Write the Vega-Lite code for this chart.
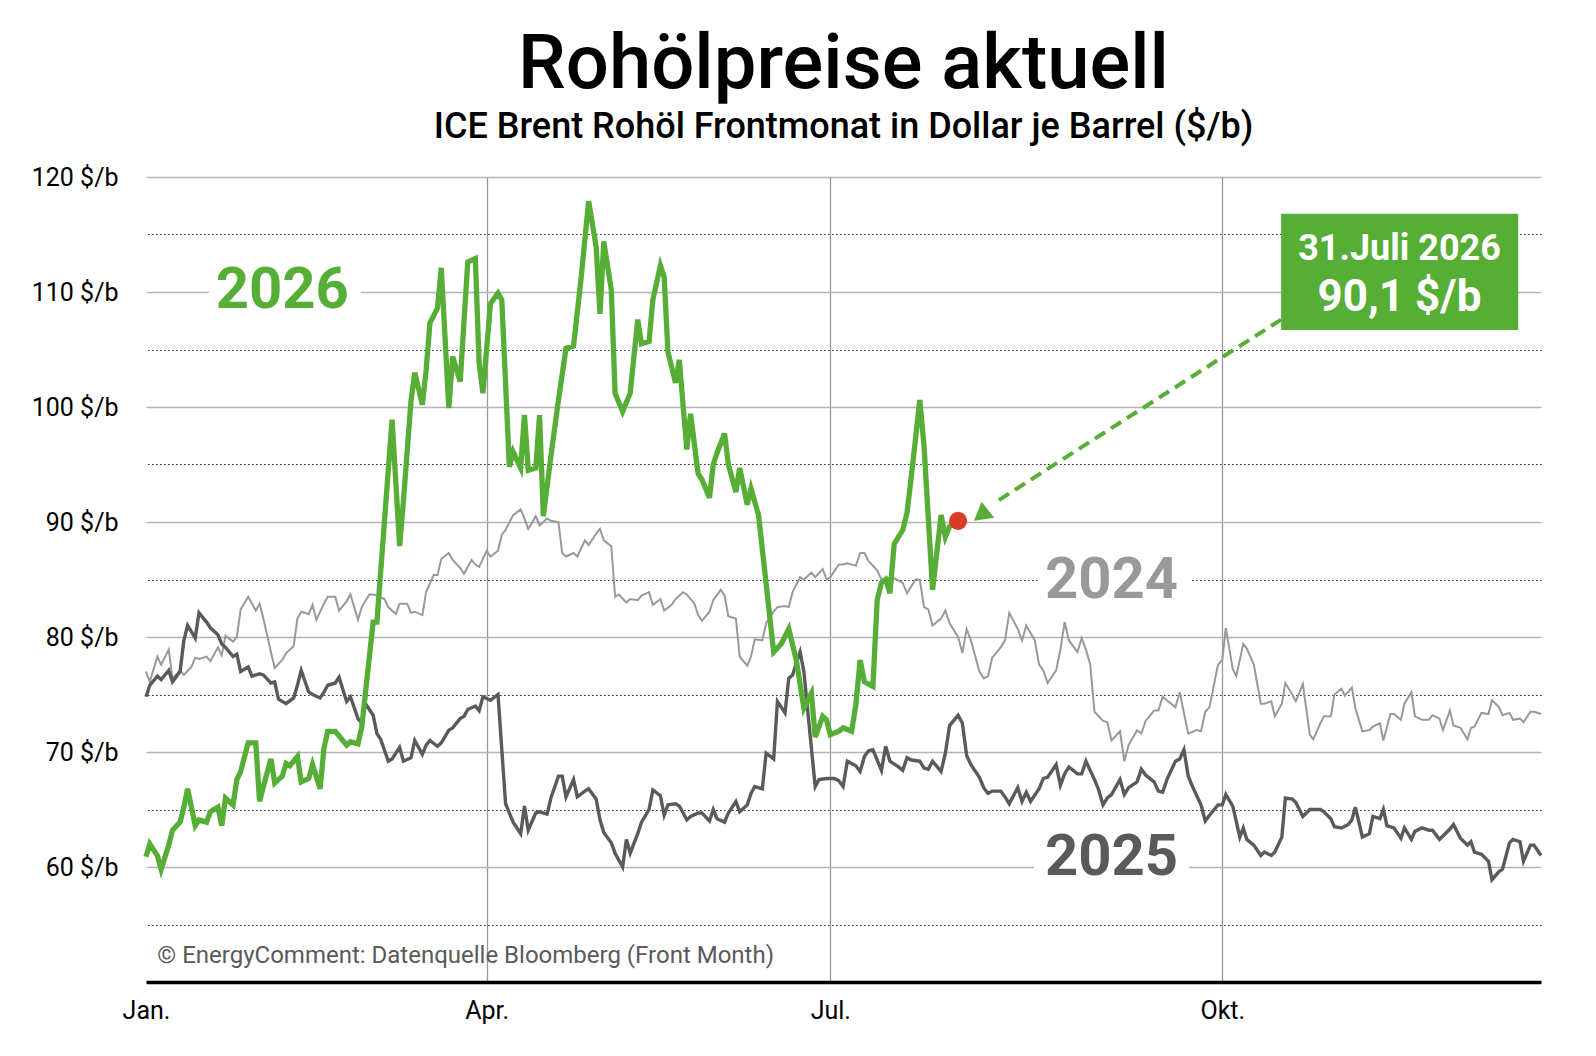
{
  "$schema": "https://vega.github.io/schema/vega-lite/v6.json",
  "width": 1395,
  "height": 805,
  "autosize": "none",
  "padding": {"left": 146, "top": 177, "right": 55, "bottom": 74},
  "background": "white",
  "title": {
    "text": "Rohölpreise aktuell",
    "subtitle": "ICE Brent Rohöl Frontmonat in Dollar je Barrel ($/b)",
    "anchor": "middle",
    "frame": "group",
    "font": "Roboto",
    "fontSize": 76,
    "fontWeight": 500,
    "color": "#000000",
    "subtitleFont": "Roboto",
    "subtitleFontSize": 36,
    "subtitleFontWeight": 500,
    "subtitleColor": "#000000",
    "subtitlePadding": 6,
    "offset": 19
  },
  "datasets": {
    "preise": [
      {"jahr":2024,"tag":1,"preis":77.0},{"jahr":2024,"tag":2,"preis":76.1},{"jahr":2024,"tag":4,"preis":78.3},{"jahr":2024,"tag":5,"preis":77.6},{"jahr":2024,"tag":7,"preis":78.9},{"jahr":2024,"tag":8,"preis":76.4},{"jahr":2024,"tag":10,"preis":77.1},{"jahr":2024,"tag":11,"preis":76.7},{"jahr":2024,"tag":13,"preis":77.4},{"jahr":2024,"tag":14,"preis":78.2},
      {"jahr":2024,"tag":15,"preis":78.1},{"jahr":2024,"tag":17,"preis":78.3},{"jahr":2024,"tag":18,"preis":77.9},{"jahr":2024,"tag":20,"preis":79.1},{"jahr":2024,"tag":21,"preis":78.4},{"jahr":2024,"tag":22,"preis":80.1},{"jahr":2024,"tag":24,"preis":79.6},{"jahr":2024,"tag":25,"preis":80.0},{"jahr":2024,"tag":26,"preis":82.4},{"jahr":2024,"tag":28,"preis":83.5},
      {"jahr":2024,"tag":30,"preis":82.3},{"jahr":2024,"tag":31,"preis":82.9},{"jahr":2024,"tag":32,"preis":81.6},{"jahr":2024,"tag":34,"preis":78.7},{"jahr":2024,"tag":35,"preis":77.3},{"jahr":2024,"tag":37,"preis":78.0},{"jahr":2024,"tag":38,"preis":78.6},{"jahr":2024,"tag":40,"preis":79.2},{"jahr":2024,"tag":41,"preis":81.6},{"jahr":2024,"tag":42,"preis":82.2},
      {"jahr":2024,"tag":44,"preis":82.0},{"jahr":2024,"tag":45,"preis":82.8},{"jahr":2024,"tag":46,"preis":81.5},{"jahr":2024,"tag":48,"preis":82.9},{"jahr":2024,"tag":49,"preis":83.5},{"jahr":2024,"tag":51,"preis":83.5},{"jahr":2024,"tag":52,"preis":82.3},{"jahr":2024,"tag":54,"preis":83.1},{"jahr":2024,"tag":55,"preis":83.7},{"jahr":2024,"tag":57,"preis":81.5},
      {"jahr":2024,"tag":58,"preis":82.6},{"jahr":2024,"tag":60,"preis":83.7},{"jahr":2024,"tag":61,"preis":83.7},{"jahr":2024,"tag":62,"preis":83.6},{"jahr":2024,"tag":64,"preis":83.3},{"jahr":2024,"tag":65,"preis":82.6},{"jahr":2024,"tag":67,"preis":82.0},{"jahr":2024,"tag":68,"preis":82.9},{"jahr":2024,"tag":70,"preis":82.9},{"jahr":2024,"tag":71,"preis":82.1},
      {"jahr":2024,"tag":72,"preis":82.2},{"jahr":2024,"tag":74,"preis":81.9},{"jahr":2024,"tag":75,"preis":83.9},{"jahr":2024,"tag":77,"preis":85.4},{"jahr":2024,"tag":78,"preis":85.4},{"jahr":2024,"tag":79,"preis":86.8},{"jahr":2024,"tag":81,"preis":87.3},{"jahr":2024,"tag":82,"preis":86.7},{"jahr":2024,"tag":84,"preis":86.0},{"jahr":2024,"tag":85,"preis":85.5},
      {"jahr":2024,"tag":87,"preis":86.7},{"jahr":2024,"tag":88,"preis":86.3},{"jahr":2024,"tag":89,"preis":86.1},{"jahr":2024,"tag":91,"preis":87.5},{"jahr":2024,"tag":92,"preis":87.0},{"jahr":2024,"tag":94,"preis":87.5},{"jahr":2024,"tag":95,"preis":88.9},{"jahr":2024,"tag":96,"preis":89.3},{"jahr":2024,"tag":98,"preis":90.6},{"jahr":2024,"tag":100,"preis":91.1},
      {"jahr":2024,"tag":101,"preis":90.3},{"jahr":2024,"tag":102,"preis":89.4},{"jahr":2024,"tag":104,"preis":90.5},{"jahr":2024,"tag":105,"preis":89.7},{"jahr":2024,"tag":107,"preis":90.3},{"jahr":2024,"tag":108,"preis":90.1},{"jahr":2024,"tag":110,"preis":90.0},{"jahr":2024,"tag":111,"preis":87.3},{"jahr":2024,"tag":112,"preis":87.0},{"jahr":2024,"tag":114,"preis":87.3},
      {"jahr":2024,"tag":115,"preis":87.0},{"jahr":2024,"tag":117,"preis":88.4},{"jahr":2024,"tag":118,"preis":88.0},{"jahr":2024,"tag":120,"preis":89.0},{"jahr":2024,"tag":121,"preis":89.4},{"jahr":2024,"tag":122,"preis":88.4},{"jahr":2024,"tag":124,"preis":87.9},{"jahr":2024,"tag":125,"preis":83.5},{"jahr":2024,"tag":126,"preis":83.7},{"jahr":2024,"tag":128,"preis":83.0},
      {"jahr":2024,"tag":129,"preis":83.3},{"jahr":2024,"tag":131,"preis":83.2},{"jahr":2024,"tag":132,"preis":83.6},{"jahr":2024,"tag":134,"preis":83.9},{"jahr":2024,"tag":135,"preis":82.8},{"jahr":2024,"tag":137,"preis":83.3},{"jahr":2024,"tag":138,"preis":82.3},{"jahr":2024,"tag":140,"preis":82.8},{"jahr":2024,"tag":141,"preis":83.3},{"jahr":2024,"tag":143,"preis":83.9},
      {"jahr":2024,"tag":144,"preis":83.7},{"jahr":2024,"tag":146,"preis":82.9},{"jahr":2024,"tag":147,"preis":81.9},{"jahr":2024,"tag":148,"preis":81.4},{"jahr":2024,"tag":150,"preis":82.2},{"jahr":2024,"tag":151,"preis":83.2},{"jahr":2024,"tag":153,"preis":84.1},{"jahr":2024,"tag":154,"preis":83.6},{"jahr":2024,"tag":155,"preis":81.8},{"jahr":2024,"tag":157,"preis":81.6},
      {"jahr":2024,"tag":158,"preis":78.3},{"jahr":2024,"tag":160,"preis":77.5},{"jahr":2024,"tag":161,"preis":78.3},{"jahr":2024,"tag":162,"preis":79.8},{"jahr":2024,"tag":164,"preis":79.7},{"jahr":2024,"tag":165,"preis":81.2},{"jahr":2024,"tag":167,"preis":82.2},{"jahr":2024,"tag":168,"preis":82.6},{"jahr":2024,"tag":170,"preis":82.7},{"jahr":2024,"tag":171,"preis":82.6},
      {"jahr":2024,"tag":172,"preis":83.9},{"jahr":2024,"tag":174,"preis":85.2},{"jahr":2024,"tag":175,"preis":85.0},{"jahr":2024,"tag":177,"preis":85.6},{"jahr":2024,"tag":178,"preis":85.2},{"jahr":2024,"tag":180,"preis":85.9},{"jahr":2024,"tag":181,"preis":85.0},{"jahr":2024,"tag":182,"preis":85.2},{"jahr":2024,"tag":184,"preis":86.3},{"jahr":2024,"tag":185,"preis":86.3},
      {"jahr":2024,"tag":186,"preis":86.4},{"jahr":2024,"tag":188,"preis":86.2},{"jahr":2024,"tag":189,"preis":87.3},{"jahr":2024,"tag":190,"preis":87.3},{"jahr":2024,"tag":191,"preis":86.6},{"jahr":2024,"tag":193,"preis":85.8},{"jahr":2024,"tag":194,"preis":85.0},{"jahr":2024,"tag":195,"preis":85.1},{"jahr":2024,"tag":197,"preis":85.1},{"jahr":2024,"tag":198,"preis":84.9},
      {"jahr":2024,"tag":199,"preis":84.7},{"jahr":2024,"tag":200,"preis":83.8},{"jahr":2024,"tag":202,"preis":85.0},{"jahr":2024,"tag":203,"preis":85.0},{"jahr":2024,"tag":204,"preis":82.6},{"jahr":2024,"tag":205,"preis":82.4},{"jahr":2024,"tag":206,"preis":81.0},{"jahr":2024,"tag":208,"preis":81.6},{"jahr":2024,"tag":209,"preis":82.3},{"jahr":2024,"tag":210,"preis":81.2},
      {"jahr":2024,"tag":212,"preis":80.0},{"jahr":2024,"tag":213,"preis":78.6},{"jahr":2024,"tag":214,"preis":80.7},{"jahr":2024,"tag":215,"preis":79.7},{"jahr":2024,"tag":217,"preis":77.0},{"jahr":2024,"tag":218,"preis":76.4},{"jahr":2024,"tag":219,"preis":76.6},{"jahr":2024,"tag":220,"preis":78.2},{"jahr":2024,"tag":222,"preis":79.1},{"jahr":2024,"tag":223,"preis":79.7},
      {"jahr":2024,"tag":224,"preis":82.1},{"jahr":2024,"tag":226,"preis":80.7},{"jahr":2024,"tag":227,"preis":79.7},{"jahr":2024,"tag":228,"preis":81.0},{"jahr":2024,"tag":230,"preis":79.7},{"jahr":2024,"tag":231,"preis":77.6},{"jahr":2024,"tag":232,"preis":77.1},{"jahr":2024,"tag":233,"preis":76.0},{"jahr":2024,"tag":235,"preis":77.1},{"jahr":2024,"tag":236,"preis":78.9},
      {"jahr":2024,"tag":237,"preis":81.3},{"jahr":2024,"tag":238,"preis":79.7},{"jahr":2024,"tag":240,"preis":78.7},{"jahr":2024,"tag":241,"preis":79.9},{"jahr":2024,"tag":242,"preis":78.9},{"jahr":2024,"tag":243,"preis":77.6},{"jahr":2024,"tag":244,"preis":73.5},{"jahr":2024,"tag":246,"preis":72.7},{"jahr":2024,"tag":247,"preis":72.6},{"jahr":2024,"tag":248,"preis":71.0},
      {"jahr":2024,"tag":250,"preis":71.8},{"jahr":2024,"tag":251,"preis":69.2},{"jahr":2024,"tag":252,"preis":70.6},{"jahr":2024,"tag":254,"preis":71.9},{"jahr":2024,"tag":255,"preis":71.6},{"jahr":2024,"tag":256,"preis":72.7},{"jahr":2024,"tag":258,"preis":73.6},{"jahr":2024,"tag":259,"preis":73.6},{"jahr":2024,"tag":260,"preis":74.8},{"jahr":2024,"tag":261,"preis":74.5},
      {"jahr":2024,"tag":263,"preis":73.9},{"jahr":2024,"tag":264,"preis":75.2},{"jahr":2024,"tag":265,"preis":73.4},{"jahr":2024,"tag":266,"preis":71.6},{"jahr":2024,"tag":268,"preis":71.9},{"jahr":2024,"tag":269,"preis":71.8},{"jahr":2024,"tag":270,"preis":73.5},{"jahr":2024,"tag":271,"preis":73.9},{"jahr":2024,"tag":273,"preis":77.6},{"jahr":2024,"tag":274,"preis":78.0},
      {"jahr":2024,"tag":275,"preis":80.8},{"jahr":2024,"tag":277,"preis":77.2},{"jahr":2024,"tag":278,"preis":76.6},{"jahr":2024,"tag":280,"preis":79.4},{"jahr":2024,"tag":281,"preis":79.0},{"jahr":2024,"tag":283,"preis":77.6},{"jahr":2024,"tag":285,"preis":74.2},{"jahr":2024,"tag":286,"preis":74.2},{"jahr":2024,"tag":288,"preis":74.4},{"jahr":2024,"tag":289,"preis":73.1},
      {"jahr":2024,"tag":291,"preis":74.2},{"jahr":2024,"tag":292,"preis":76.0},{"jahr":2024,"tag":294,"preis":75.0},{"jahr":2024,"tag":295,"preis":74.4},{"jahr":2024,"tag":297,"preis":75.9},{"jahr":2024,"tag":299,"preis":71.5},{"jahr":2024,"tag":300,"preis":71.1},{"jahr":2024,"tag":302,"preis":72.5},{"jahr":2024,"tag":303,"preis":73.1},{"jahr":2024,"tag":305,"preis":73.1},
      {"jahr":2024,"tag":306,"preis":75.0},{"jahr":2024,"tag":308,"preis":75.5},{"jahr":2024,"tag":309,"preis":74.9},{"jahr":2024,"tag":311,"preis":75.6},{"jahr":2024,"tag":312,"preis":73.8},{"jahr":2024,"tag":314,"preis":71.8},{"jahr":2024,"tag":316,"preis":71.9},{"jahr":2024,"tag":317,"preis":72.2},{"jahr":2024,"tag":319,"preis":72.5},{"jahr":2024,"tag":320,"preis":71.0},
      {"jahr":2024,"tag":322,"preis":73.3},{"jahr":2024,"tag":323,"preis":73.3},{"jahr":2024,"tag":325,"preis":72.8},{"jahr":2024,"tag":326,"preis":74.2},{"jahr":2024,"tag":328,"preis":75.2},{"jahr":2024,"tag":329,"preis":73.1},{"jahr":2024,"tag":331,"preis":72.8},{"jahr":2024,"tag":333,"preis":72.8},{"jahr":2024,"tag":334,"preis":73.2},{"jahr":2024,"tag":336,"preis":72.9},
      {"jahr":2024,"tag":337,"preis":71.9},{"jahr":2024,"tag":339,"preis":73.6},{"jahr":2024,"tag":340,"preis":72.3},{"jahr":2024,"tag":342,"preis":72.1},{"jahr":2024,"tag":344,"preis":71.1},{"jahr":2024,"tag":345,"preis":72.1},{"jahr":2024,"tag":346,"preis":72.2},{"jahr":2024,"tag":348,"preis":73.4},{"jahr":2024,"tag":350,"preis":73.3},{"jahr":2024,"tag":351,"preis":74.5},
      {"jahr":2024,"tag":353,"preis":73.9},{"jahr":2024,"tag":354,"preis":73.2},{"jahr":2024,"tag":356,"preis":73.4},{"jahr":2024,"tag":357,"preis":72.8},{"jahr":2024,"tag":359,"preis":72.9},{"jahr":2024,"tag":360,"preis":72.6},{"jahr":2024,"tag":362,"preis":73.5},{"jahr":2024,"tag":363,"preis":73.5},{"jahr":2024,"tag":365,"preis":73.3},

      {"jahr":2025,"tag":1,"preis":74.8},{"jahr":2025,"tag":2,"preis":75.8},{"jahr":2025,"tag":4,"preis":76.6},{"jahr":2025,"tag":5,"preis":76.3},{"jahr":2025,"tag":7,"preis":77.1},{"jahr":2025,"tag":8,"preis":76.1},{"jahr":2025,"tag":10,"preis":77.0},{"jahr":2025,"tag":11,"preis":79.7},{"jahr":2025,"tag":12,"preis":81.0},{"jahr":2025,"tag":14,"preis":79.9},
      {"jahr":2025,"tag":15,"preis":82.1},{"jahr":2025,"tag":17,"preis":81.3},{"jahr":2025,"tag":18,"preis":80.8},{"jahr":2025,"tag":20,"preis":80.2},{"jahr":2025,"tag":21,"preis":79.4},{"jahr":2025,"tag":22,"preis":79.1},{"jahr":2025,"tag":24,"preis":78.3},{"jahr":2025,"tag":25,"preis":78.5},{"jahr":2025,"tag":26,"preis":77.0},{"jahr":2025,"tag":28,"preis":77.4},
      {"jahr":2025,"tag":29,"preis":76.6},{"jahr":2025,"tag":31,"preis":76.8},{"jahr":2025,"tag":32,"preis":76.7},{"jahr":2025,"tag":34,"preis":76.0},{"jahr":2025,"tag":35,"preis":76.1},{"jahr":2025,"tag":36,"preis":74.6},{"jahr":2025,"tag":38,"preis":74.2},{"jahr":2025,"tag":40,"preis":74.7},{"jahr":2025,"tag":41,"preis":75.8},{"jahr":2025,"tag":42,"preis":77.1},
      {"jahr":2025,"tag":44,"preis":75.2},{"jahr":2025,"tag":45,"preis":75.0},{"jahr":2025,"tag":47,"preis":74.7},{"jahr":2025,"tag":48,"preis":75.2},{"jahr":2025,"tag":49,"preis":75.8},{"jahr":2025,"tag":51,"preis":76.0},{"jahr":2025,"tag":52,"preis":76.5},{"jahr":2025,"tag":54,"preis":74.4},{"jahr":2025,"tag":55,"preis":74.8},{"jahr":2025,"tag":57,"preis":72.9},
      {"jahr":2025,"tag":58,"preis":72.5},{"jahr":2025,"tag":59,"preis":74.2},{"jahr":2025,"tag":61,"preis":73.2},{"jahr":2025,"tag":62,"preis":71.6},{"jahr":2025,"tag":63,"preis":71.1},{"jahr":2025,"tag":65,"preis":69.2},{"jahr":2025,"tag":66,"preis":69.4},{"jahr":2025,"tag":68,"preis":70.4},{"jahr":2025,"tag":69,"preis":69.2},{"jahr":2025,"tag":71,"preis":69.5},
      {"jahr":2025,"tag":72,"preis":71.0},{"jahr":2025,"tag":74,"preis":69.8},{"jahr":2025,"tag":75,"preis":70.6},{"jahr":2025,"tag":76,"preis":71.0},{"jahr":2025,"tag":78,"preis":70.5},{"jahr":2025,"tag":79,"preis":70.8},{"jahr":2025,"tag":81,"preis":71.9},{"jahr":2025,"tag":82,"preis":72.1},{"jahr":2025,"tag":84,"preis":72.9},{"jahr":2025,"tag":85,"preis":73.1},
      {"jahr":2025,"tag":86,"preis":73.7},{"jahr":2025,"tag":88,"preis":74.0},{"jahr":2025,"tag":89,"preis":73.6},{"jahr":2025,"tag":90,"preis":74.8},{"jahr":2025,"tag":92,"preis":74.5},{"jahr":2025,"tag":94,"preis":75.0},{"jahr":2025,"tag":95,"preis":70.2},{"jahr":2025,"tag":96,"preis":65.5},{"jahr":2025,"tag":98,"preis":63.9},{"jahr":2025,"tag":100,"preis":62.9},
      {"jahr":2025,"tag":101,"preis":65.3},{"jahr":2025,"tag":102,"preis":63.2},{"jahr":2025,"tag":104,"preis":64.7},{"jahr":2025,"tag":105,"preis":64.8},{"jahr":2025,"tag":107,"preis":64.6},{"jahr":2025,"tag":108,"preis":66.0},{"jahr":2025,"tag":110,"preis":67.9},{"jahr":2025,"tag":111,"preis":67.9},{"jahr":2025,"tag":112,"preis":66.1},{"jahr":2025,"tag":114,"preis":67.6},
      {"jahr":2025,"tag":115,"preis":66.1},{"jahr":2025,"tag":117,"preis":66.6},{"jahr":2025,"tag":118,"preis":66.8},{"jahr":2025,"tag":120,"preis":65.9},{"jahr":2025,"tag":121,"preis":64.1},{"jahr":2025,"tag":122,"preis":63.0},{"jahr":2025,"tag":124,"preis":62.1},{"jahr":2025,"tag":125,"preis":61.2},{"jahr":2025,"tag":127,"preis":60.0},{"jahr":2025,"tag":128,"preis":62.4},
      {"jahr":2025,"tag":129,"preis":61.2},{"jahr":2025,"tag":131,"preis":62.9},{"jahr":2025,"tag":132,"preis":63.9},{"jahr":2025,"tag":134,"preis":65.0},{"jahr":2025,"tag":135,"preis":66.7},{"jahr":2025,"tag":137,"preis":66.2},{"jahr":2025,"tag":138,"preis":64.5},{"jahr":2025,"tag":139,"preis":65.4},{"jahr":2025,"tag":141,"preis":65.5},{"jahr":2025,"tag":142,"preis":65.3},
      {"jahr":2025,"tag":144,"preis":64.1},{"jahr":2025,"tag":145,"preis":64.4},{"jahr":2025,"tag":147,"preis":64.7},{"jahr":2025,"tag":148,"preis":64.7},{"jahr":2025,"tag":150,"preis":64.0},{"jahr":2025,"tag":151,"preis":65.0},{"jahr":2025,"tag":152,"preis":64.2},{"jahr":2025,"tag":154,"preis":63.9},{"jahr":2025,"tag":155,"preis":64.7},{"jahr":2025,"tag":157,"preis":65.7},
      {"jahr":2025,"tag":158,"preis":64.8},{"jahr":2025,"tag":160,"preis":65.4},{"jahr":2025,"tag":161,"preis":66.4},{"jahr":2025,"tag":162,"preis":67.0},{"jahr":2025,"tag":164,"preis":66.8},{"jahr":2025,"tag":165,"preis":69.9},{"jahr":2025,"tag":167,"preis":69.4},{"jahr":2025,"tag":168,"preis":74.4},{"jahr":2025,"tag":170,"preis":73.4},{"jahr":2025,"tag":171,"preis":76.4},
      {"jahr":2025,"tag":172,"preis":76.7},{"jahr":2025,"tag":174,"preis":78.7},{"jahr":2025,"tag":175,"preis":77.0},{"jahr":2025,"tag":178,"preis":67.0},{"jahr":2025,"tag":179,"preis":67.6},{"jahr":2025,"tag":181,"preis":67.7},{"jahr":2025,"tag":183,"preis":67.7},{"jahr":2025,"tag":184,"preis":67.5},{"jahr":2025,"tag":185,"preis":67.0},{"jahr":2025,"tag":186,"preis":69.2},
      {"jahr":2025,"tag":188,"preis":68.8},{"jahr":2025,"tag":189,"preis":68.3},{"jahr":2025,"tag":190,"preis":69.6},{"jahr":2025,"tag":191,"preis":70.1},{"jahr":2025,"tag":192,"preis":70.2},{"jahr":2025,"tag":194,"preis":68.4},{"jahr":2025,"tag":195,"preis":70.5},{"jahr":2025,"tag":196,"preis":69.2},{"jahr":2025,"tag":198,"preis":68.7},{"jahr":2025,"tag":199,"preis":68.4},
      {"jahr":2025,"tag":200,"preis":69.5},{"jahr":2025,"tag":201,"preis":69.3},{"jahr":2025,"tag":203,"preis":69.2},{"jahr":2025,"tag":204,"preis":68.6},{"jahr":2025,"tag":205,"preis":68.5},{"jahr":2025,"tag":206,"preis":69.2},{"jahr":2025,"tag":208,"preis":68.3},{"jahr":2025,"tag":209,"preis":69.9},{"jahr":2025,"tag":210,"preis":72.3},{"jahr":2025,"tag":212,"preis":73.2},
      {"jahr":2025,"tag":213,"preis":72.5},{"jahr":2025,"tag":214,"preis":69.7},{"jahr":2025,"tag":215,"preis":68.9},{"jahr":2025,"tag":217,"preis":67.8},{"jahr":2025,"tag":218,"preis":66.9},{"jahr":2025,"tag":219,"preis":66.4},{"jahr":2025,"tag":220,"preis":66.6},{"jahr":2025,"tag":222,"preis":66.6},{"jahr":2025,"tag":223,"preis":66.1},{"jahr":2025,"tag":224,"preis":65.5},
      {"jahr":2025,"tag":226,"preis":66.9},{"jahr":2025,"tag":227,"preis":65.7},{"jahr":2025,"tag":228,"preis":66.5},{"jahr":2025,"tag":229,"preis":65.7},{"jahr":2025,"tag":231,"preis":66.8},{"jahr":2025,"tag":232,"preis":67.7},{"jahr":2025,"tag":233,"preis":67.8},{"jahr":2025,"tag":235,"preis":68.9},{"jahr":2025,"tag":236,"preis":67.1},{"jahr":2025,"tag":237,"preis":68.1},
      {"jahr":2025,"tag":238,"preis":68.7},{"jahr":2025,"tag":240,"preis":68.1},{"jahr":2025,"tag":241,"preis":68.1},{"jahr":2025,"tag":242,"preis":69.2},{"jahr":2025,"tag":244,"preis":67.6},{"jahr":2025,"tag":245,"preis":66.7},{"jahr":2025,"tag":246,"preis":65.4},{"jahr":2025,"tag":247,"preis":66.0},{"jahr":2025,"tag":248,"preis":66.3},{"jahr":2025,"tag":250,"preis":67.6},
      {"jahr":2025,"tag":251,"preis":66.3},{"jahr":2025,"tag":252,"preis":66.9},{"jahr":2025,"tag":254,"preis":67.4},{"jahr":2025,"tag":255,"preis":68.5},{"jahr":2025,"tag":256,"preis":68.0},{"jahr":2025,"tag":258,"preis":67.4},{"jahr":2025,"tag":259,"preis":66.6},{"jahr":2025,"tag":260,"preis":66.5},{"jahr":2025,"tag":261,"preis":67.6},{"jahr":2025,"tag":263,"preis":69.2},
      {"jahr":2025,"tag":264,"preis":69.4},{"jahr":2025,"tag":265,"preis":70.2},{"jahr":2025,"tag":266,"preis":67.9},{"jahr":2025,"tag":267,"preis":67.0},{"jahr":2025,"tag":269,"preis":65.4},{"jahr":2025,"tag":270,"preis":64.0},{"jahr":2025,"tag":271,"preis":64.5},{"jahr":2025,"tag":273,"preis":65.4},{"jahr":2025,"tag":274,"preis":65.4},{"jahr":2025,"tag":275,"preis":66.3},
      {"jahr":2025,"tag":277,"preis":65.3},{"jahr":2025,"tag":279,"preis":62.6},{"jahr":2025,"tag":280,"preis":63.4},{"jahr":2025,"tag":281,"preis":62.4},{"jahr":2025,"tag":283,"preis":61.9},{"jahr":2025,"tag":285,"preis":61.0},{"jahr":2025,"tag":286,"preis":61.3},{"jahr":2025,"tag":288,"preis":61.0},{"jahr":2025,"tag":289,"preis":61.3},{"jahr":2025,"tag":291,"preis":62.6},
      {"jahr":2025,"tag":292,"preis":66.0},{"jahr":2025,"tag":294,"preis":65.9},{"jahr":2025,"tag":295,"preis":65.6},{"jahr":2025,"tag":297,"preis":64.4},{"jahr":2025,"tag":299,"preis":65.0},{"jahr":2025,"tag":300,"preis":65.0},{"jahr":2025,"tag":302,"preis":65.0},{"jahr":2025,"tag":303,"preis":64.8},{"jahr":2025,"tag":305,"preis":64.2},{"jahr":2025,"tag":306,"preis":63.5},
      {"jahr":2025,"tag":308,"preis":63.4},{"jahr":2025,"tag":310,"preis":63.7},{"jahr":2025,"tag":311,"preis":64.1},{"jahr":2025,"tag":312,"preis":65.2},{"jahr":2025,"tag":314,"preis":62.6},{"jahr":2025,"tag":316,"preis":62.9},{"jahr":2025,"tag":317,"preis":64.4},{"jahr":2025,"tag":319,"preis":64.2},{"jahr":2025,"tag":320,"preis":65.0},{"jahr":2025,"tag":321,"preis":63.6},
      {"jahr":2025,"tag":323,"preis":63.4},{"jahr":2025,"tag":325,"preis":62.5},{"jahr":2025,"tag":326,"preis":63.4},{"jahr":2025,"tag":328,"preis":62.4},{"jahr":2025,"tag":329,"preis":63.1},{"jahr":2025,"tag":331,"preis":63.4},{"jahr":2025,"tag":333,"preis":63.2},{"jahr":2025,"tag":334,"preis":63.2},{"jahr":2025,"tag":336,"preis":62.4},{"jahr":2025,"tag":337,"preis":62.7},
      {"jahr":2025,"tag":339,"preis":63.3},{"jahr":2025,"tag":340,"preis":63.7},{"jahr":2025,"tag":342,"preis":62.5},{"jahr":2025,"tag":344,"preis":61.9},{"jahr":2025,"tag":345,"preis":62.2},{"jahr":2025,"tag":346,"preis":61.3},{"jahr":2025,"tag":348,"preis":61.1},{"jahr":2025,"tag":350,"preis":60.5},{"jahr":2025,"tag":351,"preis":58.9},{"jahr":2025,"tag":353,"preis":59.6},
      {"jahr":2025,"tag":354,"preis":59.8},{"jahr":2025,"tag":356,"preis":62.1},{"jahr":2025,"tag":357,"preis":62.4},{"jahr":2025,"tag":359,"preis":62.2},{"jahr":2025,"tag":360,"preis":60.5},{"jahr":2025,"tag":362,"preis":61.9},{"jahr":2025,"tag":363,"preis":61.9},{"jahr":2025,"tag":365,"preis":61.0},

      {"jahr":2026,"tag":1,"preis":60.9},{"jahr":2026,"tag":2,"preis":62.0},{"jahr":2026,"tag":4,"preis":61.0},{"jahr":2026,"tag":5,"preis":59.8},{"jahr":2026,"tag":7,"preis":61.9},{"jahr":2026,"tag":8,"preis":63.2},{"jahr":2026,"tag":10,"preis":63.9},{"jahr":2026,"tag":11,"preis":65.2},{"jahr":2026,"tag":12,"preis":66.8},{"jahr":2026,"tag":14,"preis":63.6},
      {"jahr":2026,"tag":15,"preis":64.1},{"jahr":2026,"tag":17,"preis":63.9},{"jahr":2026,"tag":18,"preis":64.8},{"jahr":2026,"tag":20,"preis":65.2},{"jahr":2026,"tag":21,"preis":63.6},{"jahr":2026,"tag":22,"preis":66.0},{"jahr":2026,"tag":24,"preis":65.4},{"jahr":2026,"tag":25,"preis":67.6},{"jahr":2026,"tag":26,"preis":68.3},{"jahr":2026,"tag":28,"preis":70.8},
      {"jahr":2026,"tag":30,"preis":70.8},{"jahr":2026,"tag":31,"preis":65.7},{"jahr":2026,"tag":32,"preis":67.0},{"jahr":2026,"tag":34,"preis":69.4},{"jahr":2026,"tag":35,"preis":67.3},{"jahr":2026,"tag":37,"preis":67.9},{"jahr":2026,"tag":38,"preis":69.0},{"jahr":2026,"tag":39,"preis":68.8},{"jahr":2026,"tag":41,"preis":69.6},{"jahr":2026,"tag":42,"preis":67.4},
      {"jahr":2026,"tag":44,"preis":67.7},{"jahr":2026,"tag":45,"preis":68.9},{"jahr":2026,"tag":47,"preis":66.8},{"jahr":2026,"tag":48,"preis":70.3},{"jahr":2026,"tag":49,"preis":71.8},{"jahr":2026,"tag":51,"preis":71.8},{"jahr":2026,"tag":52,"preis":71.4},{"jahr":2026,"tag":54,"preis":70.6},{"jahr":2026,"tag":55,"preis":70.9},{"jahr":2026,"tag":57,"preis":70.7},
      {"jahr":2026,"tag":58,"preis":72.2},{"jahr":2026,"tag":61,"preis":81.3},{"jahr":2026,"tag":62,"preis":81.3},{"jahr":2026,"tag":66,"preis":98.9},{"jahr":2026,"tag":68,"preis":87.9},{"jahr":2026,"tag":69,"preis":91.8},{"jahr":2026,"tag":71,"preis":100.5},{"jahr":2026,"tag":72,"preis":103.0},{"jahr":2026,"tag":74,"preis":100.2},{"jahr":2026,"tag":75,"preis":103.2},
      {"jahr":2026,"tag":76,"preis":107.3},{"jahr":2026,"tag":78,"preis":108.6},{"jahr":2026,"tag":79,"preis":112.1},{"jahr":2026,"tag":81,"preis":99.9},{"jahr":2026,"tag":82,"preis":104.4},{"jahr":2026,"tag":84,"preis":102.2},{"jahr":2026,"tag":86,"preis":112.6},{"jahr":2026,"tag":88,"preis":112.9},{"jahr":2026,"tag":89,"preis":103.8},{"jahr":2026,"tag":90,"preis":101.2},
      {"jahr":2026,"tag":92,"preis":109.0},{"jahr":2026,"tag":94,"preis":109.9},{"jahr":2026,"tag":95,"preis":109.3},{"jahr":2026,"tag":97,"preis":94.8},{"jahr":2026,"tag":98,"preis":96.1},{"jahr":2026,"tag":100,"preis":94.7},{"jahr":2026,"tag":101,"preis":99.3},{"jahr":2026,"tag":102,"preis":94.5},{"jahr":2026,"tag":104,"preis":94.7},{"jahr":2026,"tag":105,"preis":99.3},
      {"jahr":2026,"tag":106,"preis":90.5},{"jahr":2026,"tag":108,"preis":95.7},{"jahr":2026,"tag":110,"preis":100.6},{"jahr":2026,"tag":112,"preis":105.1},{"jahr":2026,"tag":114,"preis":105.3},{"jahr":2026,"tag":116,"preis":111.2},{"jahr":2026,"tag":118,"preis":117.9},{"jahr":2026,"tag":120,"preis":113.9},{"jahr":2026,"tag":121,"preis":108.1},{"jahr":2026,"tag":122,"preis":114.4},
      {"jahr":2026,"tag":124,"preis":110.2},{"jahr":2026,"tag":125,"preis":101.2},{"jahr":2026,"tag":127,"preis":99.6},{"jahr":2026,"tag":129,"preis":101.2},{"jahr":2026,"tag":130,"preis":104.4},{"jahr":2026,"tag":131,"preis":107.6},{"jahr":2026,"tag":132,"preis":105.5},{"jahr":2026,"tag":134,"preis":105.7},{"jahr":2026,"tag":135,"preis":109.3},{"jahr":2026,"tag":137,"preis":112.3},
      {"jahr":2026,"tag":138,"preis":111.3},{"jahr":2026,"tag":139,"preis":104.8},{"jahr":2026,"tag":141,"preis":102.1},{"jahr":2026,"tag":142,"preis":104.1},{"jahr":2026,"tag":144,"preis":96.3},{"jahr":2026,"tag":145,"preis":99.4},{"jahr":2026,"tag":147,"preis":94.2},{"jahr":2026,"tag":148,"preis":93.7},{"jahr":2026,"tag":150,"preis":92.1},{"jahr":2026,"tag":151,"preis":95.0},
      {"jahr":2026,"tag":152,"preis":96.0},{"jahr":2026,"tag":154,"preis":97.7},{"jahr":2026,"tag":155,"preis":95.0},{"jahr":2026,"tag":157,"preis":92.6},{"jahr":2026,"tag":158,"preis":94.7},{"jahr":2026,"tag":160,"preis":91.5},{"jahr":2026,"tag":161,"preis":92.9},{"jahr":2026,"tag":163,"preis":90.6},{"jahr":2026,"tag":167,"preis":78.7},{"jahr":2026,"tag":169,"preis":79.4},
      {"jahr":2026,"tag":171,"preis":80.7},{"jahr":2026,"tag":173,"preis":78.0},{"jahr":2026,"tag":175,"preis":73.8},{"jahr":2026,"tag":177,"preis":75.1},{"jahr":2026,"tag":178,"preis":71.3},{"jahr":2026,"tag":180,"preis":73.1},{"jahr":2026,"tag":181,"preis":72.8},{"jahr":2026,"tag":182,"preis":71.5},{"jahr":2026,"tag":184,"preis":71.8},{"jahr":2026,"tag":185,"preis":72.1},
      {"jahr":2026,"tag":187,"preis":71.8},{"jahr":2026,"tag":188,"preis":74.1},{"jahr":2026,"tag":189,"preis":78.0},{"jahr":2026,"tag":190,"preis":76.1},{"jahr":2026,"tag":192,"preis":75.7},{"jahr":2026,"tag":193,"preis":83.2},{"jahr":2026,"tag":194,"preis":84.7},{"jahr":2026,"tag":195,"preis":85.0},{"jahr":2026,"tag":196,"preis":83.8},{"jahr":2026,"tag":197,"preis":88.1},
      {"jahr":2026,"tag":199,"preis":89.3},{"jahr":2026,"tag":200,"preis":90.8},{"jahr":2026,"tag":201,"preis":93.9},{"jahr":2026,"tag":203,"preis":100.6},{"jahr":2026,"tag":204,"preis":96.6},{"jahr":2026,"tag":206,"preis":84.1},{"jahr":2026,"tag":208,"preis":90.6},{"jahr":2026,"tag":209,"preis":88.7},{"jahr":2026,"tag":210,"preis":89.6},{"jahr":2026,"tag":212,"preis":90.1}
    ],
    "jahreslabels": [
      {"jahr": 2026, "label": "2026", "tag": 37, "preis": 108.6},
      {"jahr": 2024, "label": "2024", "tag": 248, "preis": 83.4},
      {"jahr": 2025, "label": "2025", "tag": 248, "preis": 59.3}
    ],
    "hinweis": [
      {"label_datum": "31.Juli 2026", "label_preis": "90,1 $/b", "quelle": "© EnergyComment: Datenquelle Bloomberg (Front Month)"}
    ]
  },
  "layer": [
    {
      "data": {"name": "jahreslabels"},
      "mark": {"type": "text", "font": "Roboto", "fontSize": 58, "fontWeight": "bold", "align": "center", "baseline": "alphabetic", "fill": "white", "stroke": "white", "strokeWidth": 28, "strokeJoin": "round"},
      "encoding": {
        "x": {"field": "tag", "type": "quantitative"},
        "y": {
          "field": "preis",
          "type": "quantitative",
          "axis": {"orient": "right", "values": [55, 65, 75, 85, 95, 105, 115], "grid": true, "gridColor": "#000000", "gridDash": [1.3, 2.7], "gridWidth": 1.2, "labels": false, "ticks": false, "domain": false, "title": null}
        },
        "text": {"field": "label"}
      }
    },
    {
      "data": {"name": "preise"},
      "transform": [{"filter": "datum.jahr == 2024"}],
      "mark": {"type": "line", "color": "#999999", "strokeWidth": 2},
      "encoding": {
        "x": {
          "field": "tag",
          "type": "quantitative",
          "scale": {"domain": [1, 91, 182, 274, 365], "range": [0, 340.7, 684.3, 1076.3, 1395], "nice": false, "zero": false},
          "axis": {
            "values": [1, 91, 182, 274],
            "labelExpr": "datum.value == 1 ? 'Jan.' : datum.value == 91 ? 'Apr.' : datum.value == 182 ? 'Jul.' : 'Okt.'",
            "grid": true,
            "gridColor": "#999999",
            "gridWidth": 1.3,
            "gridOpacity": {"condition": {"test": "datum.value == 1", "value": 0}, "value": 1},
            "domainColor": "#000000",
            "domainWidth": 3.5,
            "ticks": false,
            "tickSize": 0,
            "labelPadding": 16,
            "labelFont": "Roboto",
            "labelFontSize": 25,
            "labelColor": "#000000",
            "labelFlush": false,
            "labelOverlap": false,
            "title": null
          }
        },
        "y": {
          "field": "preis",
          "type": "quantitative",
          "scale": {"domain": [50, 120], "nice": false, "zero": false},
          "axis": {
            "orient": "left",
            "values": [60, 70, 80, 90, 100, 110, 120],
            "labelExpr": "datum.value + ' $/b'",
            "grid": true,
            "gridColor": "#b3b3b3",
            "gridWidth": 1.5,
            "domain": false,
            "ticks": false,
            "tickSize": 0,
            "labelPadding": 28,
            "labelFont": "Roboto",
            "labelFontSize": 25,
            "labelColor": "#000000",
            "labelFlush": false,
            "labelOverlap": false,
            "title": null
          }
        }
      }
    },
    {
      "data": {"name": "preise"},
      "transform": [{"filter": "datum.jahr == 2025"}],
      "mark": {"type": "line", "color": "#5a5a5a", "strokeWidth": 3.4},
      "encoding": {
        "x": {"field": "tag", "type": "quantitative"},
        "y": {"field": "preis", "type": "quantitative", "axis": null}
      }
    },
    {
      "data": {"name": "preise"},
      "transform": [{"filter": "datum.jahr == 2026"}],
      "mark": {"type": "line", "color": "#56ae36", "strokeWidth": 5.3},
      "encoding": {
        "x": {"field": "tag", "type": "quantitative"},
        "y": {"field": "preis", "type": "quantitative", "axis": null}
      }
    },
    {
      "data": {"name": "jahreslabels"},
      "mark": {"type": "text", "font": "Roboto", "fontSize": 58, "fontWeight": "bold", "align": "center", "baseline": "alphabetic"},
      "encoding": {
        "x": {"field": "tag", "type": "quantitative"},
        "y": {"field": "preis", "type": "quantitative", "axis": null},
        "text": {"field": "label"},
        "color": {"field": "jahr", "type": "nominal", "scale": {"domain": [2024, 2025, 2026], "range": ["#999999", "#5a5a5a", "#56ae36"]}, "legend": null}
      }
    },
    {
      "data": {"name": "hinweis"},
      "mark": {"type": "rule", "color": "#56ae36", "strokeWidth": 4, "strokeDash": [12, 7]},
      "encoding": {
        "x": {"datum": 290.8, "type": "quantitative"},
        "y": {"datum": 107.6, "type": "quantitative", "axis": null},
        "x2": {"datum": 220.7},
        "y2": {"datum": 91.7}
      }
    },
    {
      "data": {"name": "hinweis"},
      "mark": {"type": "point", "shape": "triangle-up", "filled": true, "color": "#56ae36", "opacity": 1, "size": 420, "angle": 352},
      "encoding": {
        "x": {"datum": 217.8, "type": "quantitative"},
        "y": {"datum": 91.0, "type": "quantitative", "axis": null}
      }
    },
    {
      "data": {"name": "preise"},
      "transform": [{"filter": "datum.jahr == 2026 && datum.tag == 212"}],
      "mark": {"type": "point", "shape": "circle", "filled": true, "color": "#d93b26", "opacity": 1, "size": 330},
      "encoding": {
        "x": {"field": "tag", "type": "quantitative"},
        "y": {"field": "preis", "type": "quantitative", "axis": null}
      }
    },
    {
      "data": {"name": "hinweis"},
      "mark": {"type": "rect", "color": "#56ae36"},
      "encoding": {
        "x": {"datum": 290.8, "type": "quantitative"},
        "x2": {"datum": 358.5},
        "y": {"datum": 106.7, "type": "quantitative", "axis": null},
        "y2": {"datum": 116.8}
      }
    },
    {
      "data": {"name": "hinweis"},
      "mark": {"type": "text", "font": "Roboto", "fontSize": 36, "fontWeight": "bold", "color": "white", "align": "center", "baseline": "alphabetic"},
      "encoding": {
        "x": {"datum": 324.6, "type": "quantitative"},
        "y": {"datum": 112.8, "type": "quantitative", "axis": null},
        "text": {"field": "label_datum"}
      }
    },
    {
      "data": {"name": "hinweis"},
      "mark": {"type": "text", "font": "Roboto", "fontSize": 44, "fontWeight": "bold", "color": "white", "align": "center", "baseline": "alphabetic"},
      "encoding": {
        "x": {"datum": 324.6, "type": "quantitative"},
        "y": {"datum": 108.35, "type": "quantitative", "axis": null},
        "text": {"field": "label_preis"}
      }
    },
    {
      "data": {"name": "hinweis"},
      "mark": {"type": "text", "font": "Roboto", "fontSize": 24, "color": "#5a5a5a", "align": "left", "baseline": "alphabetic"},
      "encoding": {
        "x": {"datum": 4, "type": "quantitative"},
        "y": {"datum": 51.65, "type": "quantitative", "axis": null},
        "text": {"field": "quelle"}
      }
    }
  ],
  "resolve": {"axis": {"y": "independent"}},
  "config": {
    "view": {"stroke": null},
    "font": "Roboto"
  }
}
